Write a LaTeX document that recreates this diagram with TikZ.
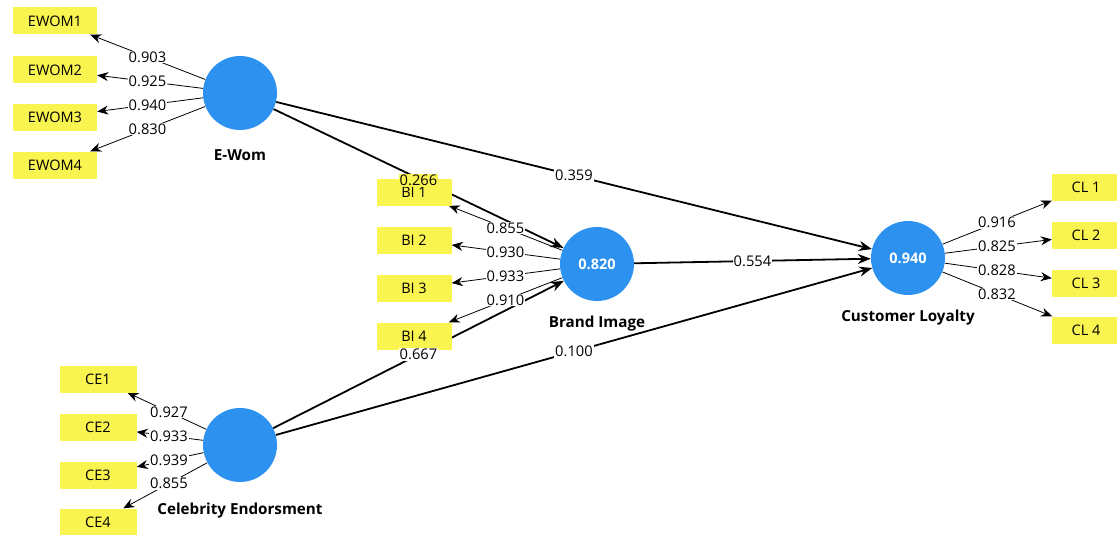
\documentclass[tikz,border=0pt]{standalone}
\usepackage{fontspec}
\setmainfont{Open Sans}
\usetikzlibrary{arrows.meta,calc}
\definecolor{lvblue}{RGB}{45,145,240}
\definecolor{mvyellow}{RGB}{250,244,80}
\pgfdeclarelayer{bg}
\pgfdeclarelayer{links}
\pgfsetlayers{bg,links,main}
\begin{document}
\begin{tikzpicture}[x=1pt,y=-1pt,
  latent/.style={circle,fill=lvblue,minimum size=74pt,inner sep=0pt,
    text=white,font=\bfseries\fontsize{14.5}{16}\selectfont},
  indicator/.style={rectangle,fill=mvyellow,minimum height=27pt,inner sep=0pt,
    font=\fontsize{14.5}{16}\selectfont},
  lvname/.style={font=\bfseries\fontsize{15.2}{17}\selectfont},
  outer/.style={-{Stealth[length=11pt,width=9pt]},line width=0.8pt},
  inner/.style={-{Stealth[length=13pt,width=10pt]},line width=1.8pt},
  coef/.style={fill=white,inner sep=1pt,font=\fontsize{14.7}{17}\selectfont}]

\begin{pgfonlayer}{bg}
  \fill[white] (0,0) rectangle (1117,535);
\end{pgfonlayer}
\useasboundingbox (0,0) rectangle (1117,535);

% latent variables
\node[latent] (ewom) at (240,93) {};
\node[latent] (bi)   at (597,264) {0.820};
\node[latent] (cl)   at (908,258) {0.940};
\node[latent] (ce)   at (240,445) {};

\node[lvname] (ewomname) at (240,155) {E-Wom};
\node[lvname] (biname)   at (597,324) {Brand Image};
\node[lvname] (clname)   at (908,318) {Customer Loyalty};
\node[lvname] (cename)   at (240,511) {Celebrity Endorsment};

% indicators
\begin{scope}[every node/.append style={indicator,minimum width=84pt}]
  \node (ewom1) at (55,21)  {EWOM1};
  \node (ewom2) at (55,70)  {EWOM2};
  \node (ewom3) at (55,117) {EWOM3};
  \node (ewom4) at (55,165) {EWOM4};
\end{scope}
\begin{scope}[every node/.append style={indicator,minimum width=75pt}]
  \node (bi1) at (414,192) {BI 1};
  \node (bi2) at (414,240) {BI 2};
  \node (bi3) at (414,288) {BI 3};
  \node (bi4) at (414,336) {BI 4};
\end{scope}
\begin{scope}[every node/.append style={indicator,minimum width=68pt}]
  \node (cl1) at (1086,187) {CL 1};
  \node (cl2) at (1086,235) {CL 2};
  \node (cl3) at (1086,283) {CL 3};
  \node (cl4) at (1086,330) {CL 4};
\end{scope}
\begin{scope}[every node/.append style={indicator,minimum width=77pt}]
  \node (ce1) at (98,379) {CE1};
  \node (ce2) at (98,427) {CE2};
  \node (ce3) at (98,475) {CE3};
  \node (ce4) at (98,522) {CE4};
\end{scope}

% connectors, kept under the boxes
\begin{pgfonlayer}{links}
  \foreach \a/\b in {ewom/ewom1,ewom/ewom2,ewom/ewom3,ewom/ewom4,
                     bi/bi1,bi/bi2,bi/bi3,bi/bi4,
                     cl/cl1,cl/cl2,cl/cl3,cl/cl4,
                     ce/ce1,ce/ce2,ce/ce3,ce/ce4}
    \draw[outer] (\a) -- (\b);
  \foreach \a/\b in {ewom/bi,ewom/cl,bi/cl,ce/bi,ce/cl}
    \draw[inner] (\a) -- (\b);
\end{pgfonlayer}

% path coefficients and loadings, centred between the node centres
\foreach \a/\b/\v in {ewom/ewom1/0.903,ewom/ewom2/0.925,ewom/ewom3/0.940,ewom/ewom4/0.830,
                      bi/bi1/0.855,bi/bi2/0.930,bi/bi3/0.933,bi/bi4/0.910,
                      cl/cl1/0.916,cl/cl2/0.825,cl/cl3/0.828,cl/cl4/0.832,
                      ce/ce1/0.927,ce/ce2/0.933,ce/ce3/0.939,ce/ce4/0.855,
                      ewom/cl/0.359,bi/cl/0.554,ce/bi/0.667,ce/cl/0.100}
  \node[coef] (c-\a-\b) at ($(\a.center)!0.5!(\b.center)$) {\v};
\node[coef,fill=mvyellow] (c-ewom-bi) at ($(ewom.center)!0.5!(bi.center)+(0,2)$) {0.266};
\end{tikzpicture}
\end{document}
